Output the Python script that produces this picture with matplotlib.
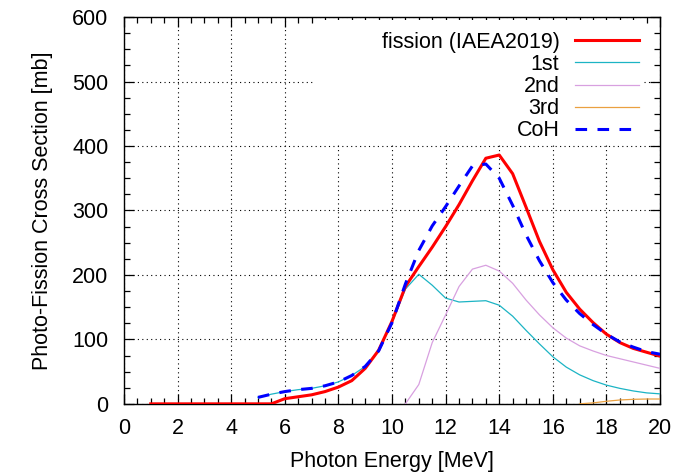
import matplotlib
matplotlib.use("Agg")
import matplotlib.pyplot as plt
from matplotlib.patches import Rectangle
from matplotlib.ticker import MultipleLocator

plt.rcParams['font.family'] = ['Liberation Sans', 'DejaVu Sans']

# photo-fission cross sections [mb] vs photon energy [MeV]
e_fis = [1.0, 5.5, 6.0, 6.5, 7.0, 7.5, 8.0, 8.5, 9.0, 9.5, 10.0, 10.5, 11.0, 11.5,
         12.0, 12.5, 13.0, 13.5, 14.0, 14.5, 15.0, 15.5, 16.0, 16.5, 17.0, 17.5,
         18.0, 18.5, 19.0, 19.5, 20.0]
s_fis = [0, 0, 8, 11, 14, 19, 26, 36, 55, 83, 128, 182, 213, 243,
         275, 309, 346, 381, 386, 357, 305, 252, 208, 173, 147, 126,
         108, 95, 86, 80, 74]

e_1st = [5.0, 5.5, 6.0, 6.5, 7.0, 7.5, 8.0, 8.5, 9.0, 9.5, 10.0, 10.5, 11.0, 11.5,
         12.0, 12.5, 13.0, 13.5, 14.0, 14.5, 15.0, 15.5, 16.0, 16.5, 17.0, 17.5,
         18.0, 18.5, 19.0, 19.5, 20.0]
s_1st = [10, 15, 19, 22, 24, 28, 34, 44, 58, 82, 126, 178, 201, 184,
         164, 158, 159, 160, 153, 136, 114, 93, 73, 57, 45, 36,
         29, 24, 20, 17, 15.5]

e_2nd = [10.5, 11.0, 11.5, 12.0, 12.5, 13.0, 13.5, 14.0, 14.5, 15.0, 15.5,
         16.0, 16.5, 17.0, 17.5, 18.0, 18.5, 19.0, 19.5, 20.0]
s_2nd = [0, 30, 95, 138, 182, 209, 215, 206, 187, 161, 138,
         118, 102, 90, 82, 75, 70, 65, 60, 55]

e_3rd = [17.0, 17.5, 18.0, 18.5, 19.0, 19.5, 20.0]
s_3rd = [0, 1.5, 4, 6, 7, 7.5, 7.5]

e_coh = [5.0, 5.5, 6.0, 6.5, 7.0, 7.5, 8.0, 8.5, 9.0, 9.5, 10.0, 10.5, 11.0, 11.5,
         12.0, 12.5, 13.0, 13.5, 14.0, 14.5, 15.0, 15.5, 16.0, 16.5, 17.0, 17.5,
         18.0, 18.5, 19.0, 19.5, 20.0]
s_coh = [10, 15, 19, 22, 24, 28, 34, 44, 58, 82, 126, 186, 238, 276,
         306, 338, 369, 372, 350, 308, 262, 222, 188, 161, 140, 123,
         108, 96, 88, 81, 77]

FS = 15.5

fig = plt.figure(figsize=(7.0, 4.74), dpi=100)
ax = fig.add_axes([0.177, 0.148, 0.766, 0.816])

ax.plot(e_fis, s_fis, color='#ff0000', lw=2.2, label='fission (IAEA2019)', zorder=4)
ax.plot(e_1st, s_1st, color='#1cb4c4', lw=0.9, label='1st', zorder=3)
ax.plot(e_2nd, s_2nd, color='#d8a0e0', lw=0.9, label='2nd', zorder=3)
ax.plot(e_3rd, s_3rd, color='#eaa040', lw=0.9, label='3rd', zorder=3)
ax.plot(e_coh, s_coh, color='#0000ff', lw=2.2, dashes=(3.8, 3.4), label='CoH', zorder=5)

ax.set_xlim(0, 20)
ax.set_ylim(0, 600)
ax.xaxis.set_major_locator(MultipleLocator(2))
ax.xaxis.set_minor_locator(MultipleLocator(0.5))
ax.yaxis.set_major_locator(MultipleLocator(100))
ax.yaxis.set_minor_locator(MultipleLocator(25))
ax.tick_params(which='both', direction='in', top=True, right=True, labelsize=FS,
               width=0.9, colors='black')
ax.tick_params(which='major', length=7)
ax.tick_params(which='minor', length=4)
ax.tick_params(axis='x', which='major', pad=10)
ax.tick_params(axis='y', which='major', pad=11)
for sp in ax.spines.values():
    sp.set_linewidth(1.0)

ax.grid(True, which='major', color='black', lw=0.8, linestyle=(0, (1, 3)))

# blank key area, hides the grid behind the legend
ax.add_patch(Rectangle((7.1, 405), 12.3, 190, facecolor='white', edgecolor='none', zorder=1.8))

ax.set_xlabel('Photon Energy [MeV]', fontsize=FS, labelpad=9)
ax.set_ylabel('Photo-Fission Cross Section [mb]', fontsize=FS, labelpad=14)

ax.legend(loc='upper right', bbox_to_anchor=(0.985, 0.995), frameon=False, markerfirst=False,
          fontsize=FS, handlelength=3.0, handletextpad=0.7, labelspacing=0.05,
          borderaxespad=0.2)

fig.savefig('out.png', dpi=100)
